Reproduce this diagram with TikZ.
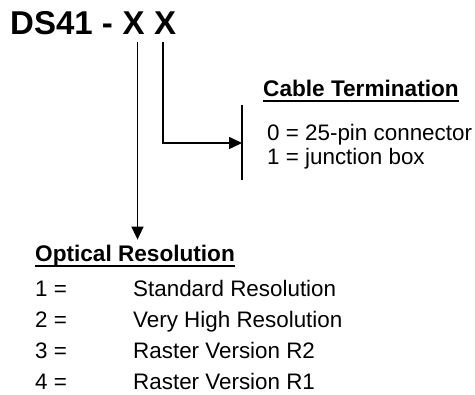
\documentclass[tikz,border=0pt]{standalone}
\usepackage{fontspec}
\setmainfont{Liberation Sans}
\usetikzlibrary{arrows.meta,positioning}

\tikzset{
  title/.style={font=\fontsize{33}{38}\selectfont\bfseries,inner sep=0pt},
  head/.style={font=\fontsize{22.6}{27}\selectfont\bfseries,inner sep=0pt,anchor=base west},
  item/.style={font=\fontsize{22.4}{27}\selectfont,inner sep=0pt,anchor=base west},
  ulin/.style={line width=1.7pt},
  arr/.style={line width=1.6pt,-{Triangle[length=13pt,width=12pt]}}
}

\begin{document}
\begin{tikzpicture}[x=1pt,y=-1pt,node distance=9.2pt]
\useasboundingbox (0,0) rectangle (475,395);
% part number
\node[title,anchor=base west] (ds) at (10,35){DS41 -};
\node[title,base right=of ds] (x1){X};
\node[title,base right=of x1] (x2){X};
% cable termination
\coordinate (bartop) at (242,105);
\coordinate (barmid) at (242,143);
\coordinate (barbot) at (242,180);
\draw[line width=1.4pt] (bartop)--(barbot);
\node[head] (cable) at (263,97){Cable Termination};
\draw[ulin] ([yshift=-4pt]cable.base west)--([yshift=-4pt]cable.base east);
\node[item] (ct0) at (267,141){0 = 25-pin connector};
\node[item] (ct1) at (267,165){1 = junction box};
\draw[arr] ([xshift=-2pt,yshift=-7pt]x2.south) |- (barmid);
% optical resolution
\node[head,outer ysep=6pt] (opt) at (35,262){Optical Resolution};
\draw[ulin] ([yshift=-4pt]opt.base west)--([yshift=-4pt]opt.base east);
\draw[arr] ([xshift=4pt,yshift=-7pt]x1.south)--([xshift=4pt]x1.south |- opt.north);
\foreach \n/\t [count=\i] in {1/Standard Resolution,2/Very High Resolution,3/Raster Version R2,4/Raster Version R1}{
  \node[item] (num\i) at (35,266+31*\i){\n\ =};
  \node[item] (res\i) at (133,266+31*\i){\t};}
\end{tikzpicture}
\end{document}
